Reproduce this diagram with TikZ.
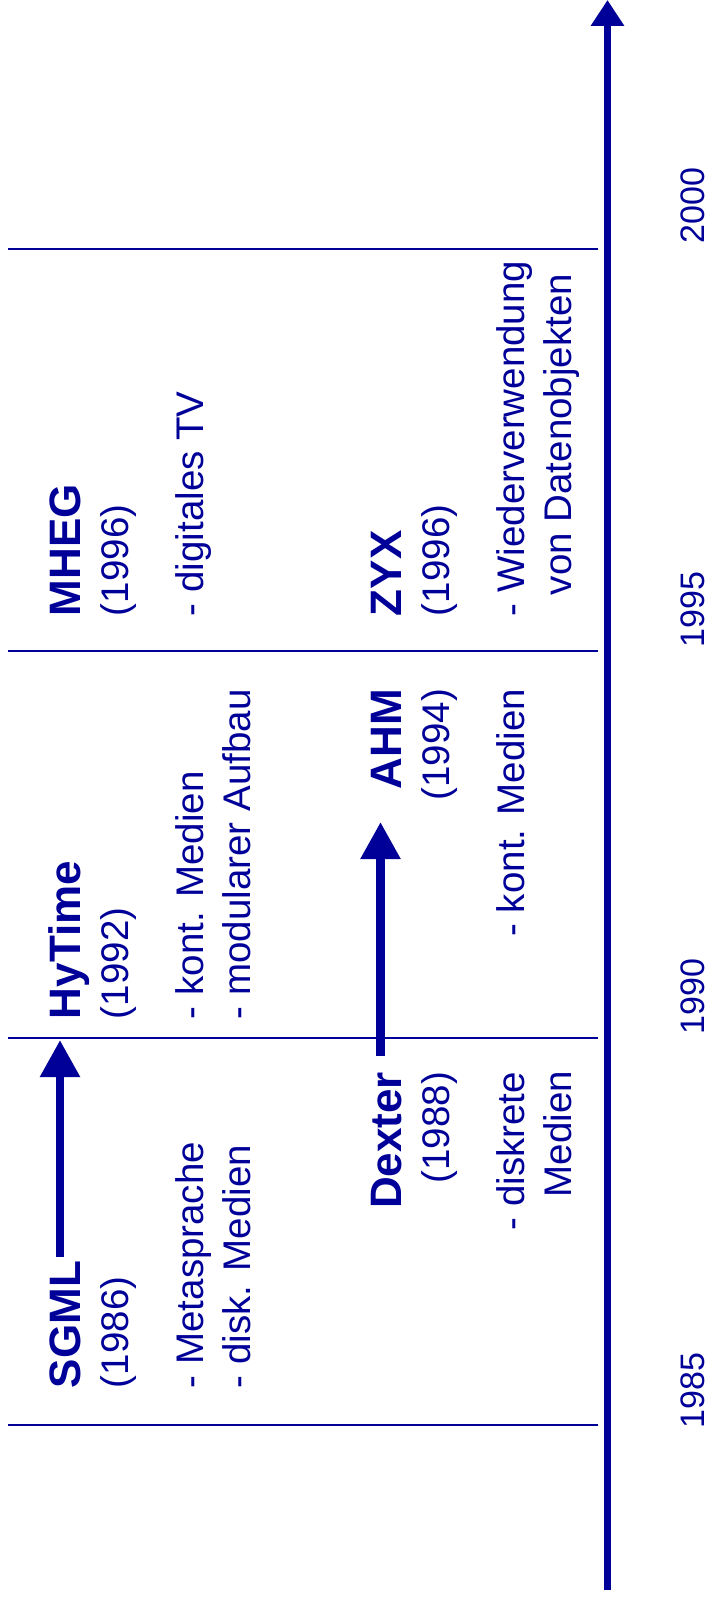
\documentclass[tikz,border=0pt]{standalone}
\usepackage{fontspec}
\setmainfont{Liberation Sans}
\usetikzlibrary{arrows.meta}
\definecolor{ink}{RGB}{0,0,153}
\begin{document}
\begin{tikzpicture}[x=1pt,y=-1pt,
  every node/.style={inner sep=0pt, outer sep=0pt, text=ink, rotate=90},
  title/.style={font=\fontsize{44}{50}\selectfont\bfseries},
  body/.style={font=\fontsize{38.5}{44}\selectfont},
  year/.style={font=\fontsize{34}{40}\selectfont},
  divider/.style={draw=ink, line width=2pt},
  axis/.style={draw=ink, line width=6.5pt, -{Triangle[length=26pt,width=32pt]}},
  link/.style={draw=ink, line width=8.5pt, -{Triangle[length=37pt,width=38pt]}},
]
\useasboundingbox (0,0) rectangle (711,1603);

% time axis
\coordinate (axbottom) at (607.5,1590);
\coordinate (axtop) at (607.5,0);
\draw[axis] (axbottom) -- (axtop);

% five-year dividers
\foreach \yy/\nm in {249/d2000, 651/d1995, 1038/d1990, 1425/d1985}{
  \coordinate (\nm l) at (8,\yy);
  \coordinate (\nm r) at (598,\yy);
  \draw[divider] (\nm l) -- (\nm r);
}

% year labels
\node[year, anchor=base west] (y2000) at (704,243) {2000};
\node[year, anchor=base west] (y1995) at (704,647) {1995};
\node[year, anchor=base west] (y1990) at (704,1034) {1990};
\node[year, anchor=base west] (y1985) at (704,1428) {1985};

% SGML
\node[title, anchor=base west] (sgml) at (80,1388) {SGML};
\node[body, anchor=base west] (sgmlyear) at (128,1388) {(1986)};
\node[body, anchor=base west] (sgmla) at (203,1388) {- Metasprache};
\node[body, anchor=base west] (sgmlb) at (250,1388) {- disk. Medien};

% HyTime
\node[title, anchor=base west] (hytime) at (80,1019) {HyTime};
\node[body, anchor=base west] (hytimeyear) at (128,1019) {(1992)};
\node[body, anchor=base west] (hytimea) at (203,1019) {- kont. Medien};
\node[body, anchor=base west] (hytimeb) at (250,1019) {- modularer Aufbau};

% MHEG
\node[title, anchor=base west] (mheg) at (80,616) {MHEG};
\node[body, anchor=base west] (mhegyear) at (128,616) {(1996)};
\node[body, anchor=base west] (mhega) at (203,616) {- digitales TV};

% Dexter
\node[title, anchor=base east] (dexter) at (401,1072) {Dexter};
\node[body, anchor=base east] (dexteryear) at (449,1072) {(1988)};
\node[body, anchor=base east] (dextera) at (524,1072) {- diskrete};
\node[body, anchor=base east] (dexterb) at (571,1071) {Medien};

% AHM
\node[title, anchor=base east] (ahm) at (401,689) {AHM};
\node[body, anchor=base east] (ahmyear) at (449,689) {(1994)};
\node[body, anchor=base east] (ahma) at (524,689) {- kont. Medien};

% ZYX
\node[title, anchor=base west] (zyx) at (401,616) {ZYX};
\node[body, anchor=base west] (zyxyear) at (449,616) {(1996)};
\node[body, anchor=base west] (zyxa) at (524,616) {- Wiederverwendung};
\node[body, anchor=base west] (zyxb) at (571,595) {von Datenobjekten};

% succession arrows
\coordinate (sgmlfrom) at (60,1257);
\coordinate (sgmlto) at (60,1040);
\draw[link] (sgmlfrom) -- (sgmlto);
\coordinate (dexterfrom) at (380.5,1056);
\coordinate (dexterto) at (380.5,822);
\draw[link] (dexterfrom) -- (dexterto);
\end{tikzpicture}
\end{document}
